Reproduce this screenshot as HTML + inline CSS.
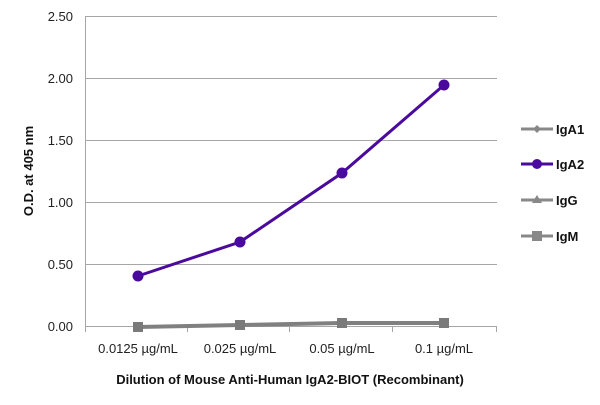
<!DOCTYPE html>
<html><head><style>body{margin:0;background:#fff}</style></head><body>
<svg width="600" height="400" xmlns="http://www.w3.org/2000/svg" font-family="Liberation Sans, sans-serif">
<g stroke="#a6a6a6" stroke-width="1">
<line x1="85" y1="16.5" x2="497" y2="16.5"/><line x1="85" y1="78.5" x2="497" y2="78.5"/><line x1="85" y1="140.5" x2="497" y2="140.5"/><line x1="85" y1="202.5" x2="497" y2="202.5"/><line x1="85" y1="264.5" x2="497" y2="264.5"/>
<line x1="85.5" y1="16" x2="85.5" y2="326"/>
<line x1="85" y1="326.5" x2="497" y2="326.5"/>
<line x1="85.5" y1="326" x2="85.5" y2="332"/><line x1="187.5" y1="326" x2="187.5" y2="332"/><line x1="289.5" y1="326" x2="289.5" y2="332"/><line x1="392.5" y1="326" x2="392.5" y2="332"/><line x1="496.5" y1="326" x2="496.5" y2="332"/>
</g>
<g font-size="13" fill="#222" text-anchor="end">
<text x="73" y="21">2.50</text><text x="73" y="83">2.00</text><text x="73" y="145">1.50</text><text x="73" y="207">1.00</text><text x="73" y="269">0.50</text><text x="73" y="331">0.00</text>
</g>
<g font-size="13" fill="#222" text-anchor="middle">
<text x="138" y="353">0.0125 µg/mL</text><text x="240" y="353">0.025 µg/mL</text><text x="342" y="353">0.05 µg/mL</text><text x="444" y="353">0.1 µg/mL</text>
</g>
<text x="290" y="384" font-size="13" font-weight="bold" text-anchor="middle" fill="#111">Dilution of Mouse Anti-Human IgA2-BIOT (Recombinant)</text>
<text transform="translate(33,171) rotate(-90)" font-size="13" font-weight="bold" text-anchor="middle" fill="#111">O.D. at 405 nm</text>
<polyline points="138,327 240,325 342,323 444,323" fill="none" stroke="#808080" stroke-width="4"/>
<g fill="#7a7a7a"><rect x="133" y="322" width="10" height="10"/><rect x="235" y="320" width="10" height="10"/><rect x="337" y="318" width="10" height="10"/><rect x="439" y="318" width="10" height="10"/></g>
<polyline points="138,276 240,242 342,173 444,85" fill="none" stroke="#4b0a9e" stroke-width="3"/>
<g fill="#4b0a9e"><circle cx="138" cy="276" r="5.5"/><circle cx="240" cy="242" r="5.5"/><circle cx="342" cy="173" r="5.5"/><circle cx="444" cy="85" r="5.5"/></g>
<g stroke-width="3">
<line x1="521" y1="129" x2="553" y2="129" stroke="#888"/><line x1="521" y1="164" x2="553" y2="164" stroke="#4b0a9e"/><line x1="521" y1="200" x2="553" y2="200" stroke="#888"/><line x1="521" y1="236" x2="553" y2="236" stroke="#888"/>
</g>
<polygon points="537,125 541,129 537,133 533,129" fill="#888"/>
<circle cx="537" cy="164" r="5" fill="#4b0a9e"/>
<polygon points="537,195 542,203 532,203" fill="#888"/>
<rect x="532" y="231" width="10" height="10" fill="#888"/>
<g font-size="13" font-weight="bold" fill="#111">
<text x="556" y="134">IgA1</text><text x="556" y="169">IgA2</text><text x="556" y="205">IgG</text><text x="556" y="241">IgM</text>
</g>
</svg>
</body></html>
